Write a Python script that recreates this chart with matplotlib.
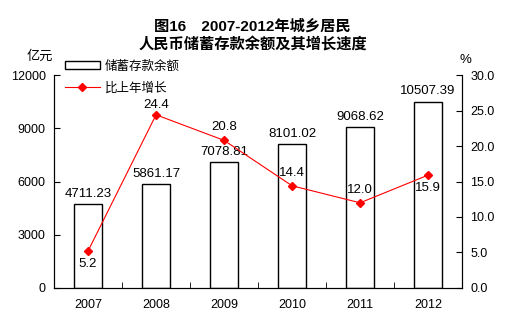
import matplotlib
matplotlib.use("Agg")
import matplotlib.pyplot as plt
from matplotlib.patches import Patch
from matplotlib.lines import Line2D
import numpy as np

plt.rcParams['font.family'] = ['Liberation Sans', 'Noto Sans CJK SC', 'DejaVu Sans']

years = ['2007', '2008', '2009', '2010', '2011', '2012']
savings = [4711.23, 5861.17, 7078.81, 8101.02, 9068.62, 10507.39]
growth = [5.2, 24.4, 20.8, 14.4, 12.0, 15.9]
left_ticks = [0, 3000, 6000, 9000, 12000]
right_ticks = [0.0, 5.0, 10.0, 15.0, 20.0, 25.0, 30.0]

fig = plt.figure(figsize=(5.05, 3.25), dpi=100)
ax = fig.add_axes([0.107, 0.114, 0.808, 0.655])
x = np.arange(len(years))
ax.bar(x, savings, width=0.4, facecolor='white', edgecolor='black', linewidth=1)
ax.set_xlim(-0.5, len(years) - 0.5)
ax.set_ylim(0, 12000)
ax.set_yticks(left_ticks)
ax.set_yticklabels([str(v) for v in left_ticks], fontsize=9)
ax.set_xticks(x)
ax.set_xticklabels(years, fontsize=9)
ax.set_xticks(np.arange(-0.5, len(years), 1), minor=True)
ax.tick_params(axis='x', which='major', length=0, pad=8)
ax.tick_params(axis='x', which='minor', direction='in', length=4)
ax.tick_params(axis='y', direction='in', length=4, pad=6)
ax.spines['top'].set_visible(False)
for i, v in enumerate(savings):
    ax.text(i, v + 250, f"{v:.2f}", ha='center', va='bottom', fontsize=9.5)

ax2 = ax.twinx()
ax2.plot(x, growth, color='red', marker='D', markersize=4, linewidth=0.8)
ax2.set_ylim(0, 30)
ax2.set_yticks(right_ticks)
ax2.set_yticklabels([f"{v:.1f}" for v in right_ticks], fontsize=9)
ax2.tick_params(axis='y', direction='in', length=4, pad=6)
ax2.spines['top'].set_visible(False)
offsets = [-1.0, 0.6, 1.0, 1.0, 1.0, -1.0]
for i, (v, o) in enumerate(zip(growth, offsets)):
    ax2.text(i, v + o, f"{v:.1f}", ha='center', va='bottom' if o > 0 else 'top', fontsize=9.5)

handles = [Patch(facecolor='white', edgecolor='black', linewidth=1),
           Line2D([0], [0], color='red', marker='D', markersize=4, linewidth=0.8)]
ax.legend(handles, ['储蓄存款余额', '比上年增长'], loc='upper left', bbox_to_anchor=(0.005, 1.11),
          frameon=False, fontsize=9, handlelength=2.8, handleheight=0.6, labelspacing=0.75,
          handletextpad=0.4, borderaxespad=0.3)

fig.text(0.5, 0.92, '图16　2007-2012年城乡居民', ha='center', va='center', fontsize=11, fontweight='bold')
fig.text(0.5, 0.86, '人民币储蓄存款余额及其增长速度', ha='center', va='center', fontsize=11, fontweight='bold')
fig.text(0.078, 0.825, '亿元', ha='center', va='center', fontsize=9.5)
fig.text(0.922, 0.815, '%', ha='center', va='center', fontsize=9.5)

fig.savefig('out.png', dpi=100)
